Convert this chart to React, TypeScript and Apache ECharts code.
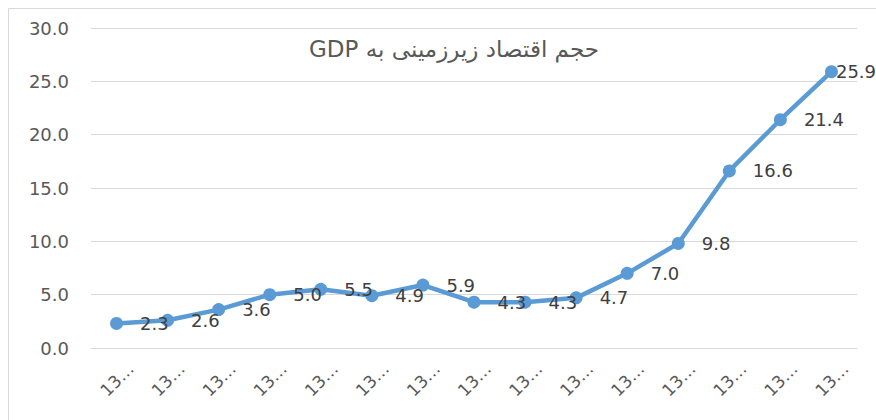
import React, { useEffect, useRef } from "react";
import * as echarts from "echarts";

const categories = ["13…", "13…", "13…", "13…", "13…", "13…", "13…", "13…", "13…", "13…", "13…", "13…", "13…", "13…", "13…"];
const values = [2.3, 2.6, 3.6, 5.0, 5.5, 4.9, 5.9, 4.3, 4.3, 4.7, 7.0, 9.8, 16.6, 21.4, 25.9];
const titleText = "حجم اقتصاد زیرزمینی به GDP";
const yMin = 0;
const yMax = 30;
const yInterval = 5;

const FONT = "DejaVu Sans";

export default function App() {
  const ref = useRef<HTMLDivElement>(null);
  useEffect(() => {
    document.body.style.margin = "0";
    if (!ref.current) return;
    const chart = echarts.init(ref.current, null, { renderer: "svg" });
    const last = values.length - 1;
    chart.setOption({
      animation: false,
      backgroundColor: "#ffffff",
      graphic: [
        {
          type: "rect",
          shape: { x: 8.5, y: 8.5, width: 900, height: 450 },
          style: { fill: "none", stroke: "#d9d9d9", lineWidth: 1 },
          silent: true,
          z: -1,
        },
        {
          type: "text",
          x: 454,
          y: 49,
          style: {
            text: "\u202B" + titleText + "\u202C",
            fill: "#595959",
            font: `23px "${FONT}"`,
            align: "center",
            verticalAlign: "middle",
          },
        },
      ],
      grid: { left: 91, right: 19, top: 28, bottom: 72, containLabel: false },
      xAxis: {
        type: "category",
        data: categories,
        boundaryGap: true,
        axisLine: { show: true, lineStyle: { color: "#d9d9d9", width: 1 } },
        axisTick: { show: false },
        axisLabel: {
          rotate: 45,
          interval: 0,
          margin: 32,
          padding: [0, -20, 0, 0],
          color: "#595959",
          fontFamily: FONT,
          fontSize: 17,
        },
      },
      yAxis: {
        type: "value",
        min: yMin,
        max: yMax,
        interval: yInterval,
        axisLine: { show: false },
        axisTick: { show: false },
        splitLine: { lineStyle: { color: "#d9d9d9", width: 1 } },
        axisLabel: {
          margin: 22,
          color: "#595959",
          fontFamily: FONT,
          fontSize: 18,
          formatter: (v: number) => v.toFixed(1),
        },
      },
      series: [
        {
          type: "line",
          data: values.map((v, i) =>
            i === last ? { value: v, label: { distance: -2 } } : v
          ),
          symbol: "circle",
          symbolSize: 13,
          lineStyle: { color: "#5b9bd5", width: 4.5 },
          itemStyle: { color: "#5b9bd5" },
          label: {
            show: true,
            position: "right",
            distance: 17,
            color: "#404040",
            fontFamily: FONT,
            fontSize: 18,
            formatter: (p: any) => Number(p.value).toFixed(1),
          },
        },
      ],
    });
    return () => chart.dispose();
  }, []);
  return <div ref={ref} style={{ width: 876, height: 420 }} />;
}
